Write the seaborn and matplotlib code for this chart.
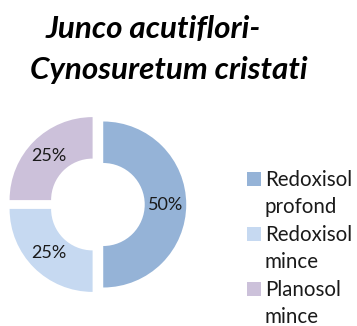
import matplotlib
matplotlib.use("Agg")
import matplotlib.pyplot as plt
import seaborn as sns
from matplotlib.patches import Rectangle

# Soil types under the Junco acutiflori-Cynosuretum cristati association
soil_types = ["Redoxisol\nprofond", "Redoxisol\nmince", "Planosol\nmince"]
shares = [50, 25, 25]
colors = ["#95B3D7", "#C6D9F1", "#CCC1DA"]
title_lines = ["Junco acutiflori-", "Cynosuretum cristati"]

sns.set_theme(style="white")
plt.rcParams["font.family"] = ["Lato", "DejaVu Sans"]

W, H = 357, 326
fig = plt.figure(figsize=(W / 100, H / 100), dpi=100)
fig.patch.set_facecolor("white")


def fy(px):
    """Pixel row from the top -> figure fraction."""
    return 1 - px / H


# Donut axes: centred on the ring, equal aspect
cx, cy, half = 97, 204.5, 99.6
ax = fig.add_axes([(cx - half) / W, (H - cy - half) / H, 2 * half / W, 2 * half / H])
wedges, texts, autotexts = ax.pie(
    shares,
    colors=colors,
    startangle=90,
    counterclock=False,
    explode=[0.075] * len(shares),
    radius=1.0,
    wedgeprops=dict(width=0.5, edgecolor="none"),
    autopct=lambda p: f"{p:.0f}%",
    pctdistance=0.75,
    textprops=dict(fontsize=13, color="#1a1a1a"),
)
ax.set_xlim(-1.2, 1.2)
ax.set_ylim(-1.2, 1.2)
ax.set_aspect("equal")
ax.axis("off")

# Two-line italic title
for line, xc, base in zip(title_lines, [153.0, 168.5], [38.3, 79.0]):
    fig.text(xc / W, fy(base), line, ha="center", va="baseline",
             fontsize=22.6, fontweight="bold", fontstyle="italic", color="black")

# Legend: square swatch on the first line of each wrapped label
line_step = 27.5
first_base = 185.7
row = 0
for label, color in zip(soil_types, colors):
    base = first_base + row * line_step
    fig.patches.append(Rectangle((247.3 / W, fy(base)), 14 / W, 13.5 / H,
                                 transform=fig.transFigure, facecolor=color,
                                 edgecolor="none"))
    for part in label.split("\n"):
        fig.text(265 / W, fy(first_base + row * line_step), part, ha="left",
                 va="baseline", fontsize=14.8, color="#1a1a1a")
        row += 1

fig.savefig("out.png", dpi=100, facecolor="white")
